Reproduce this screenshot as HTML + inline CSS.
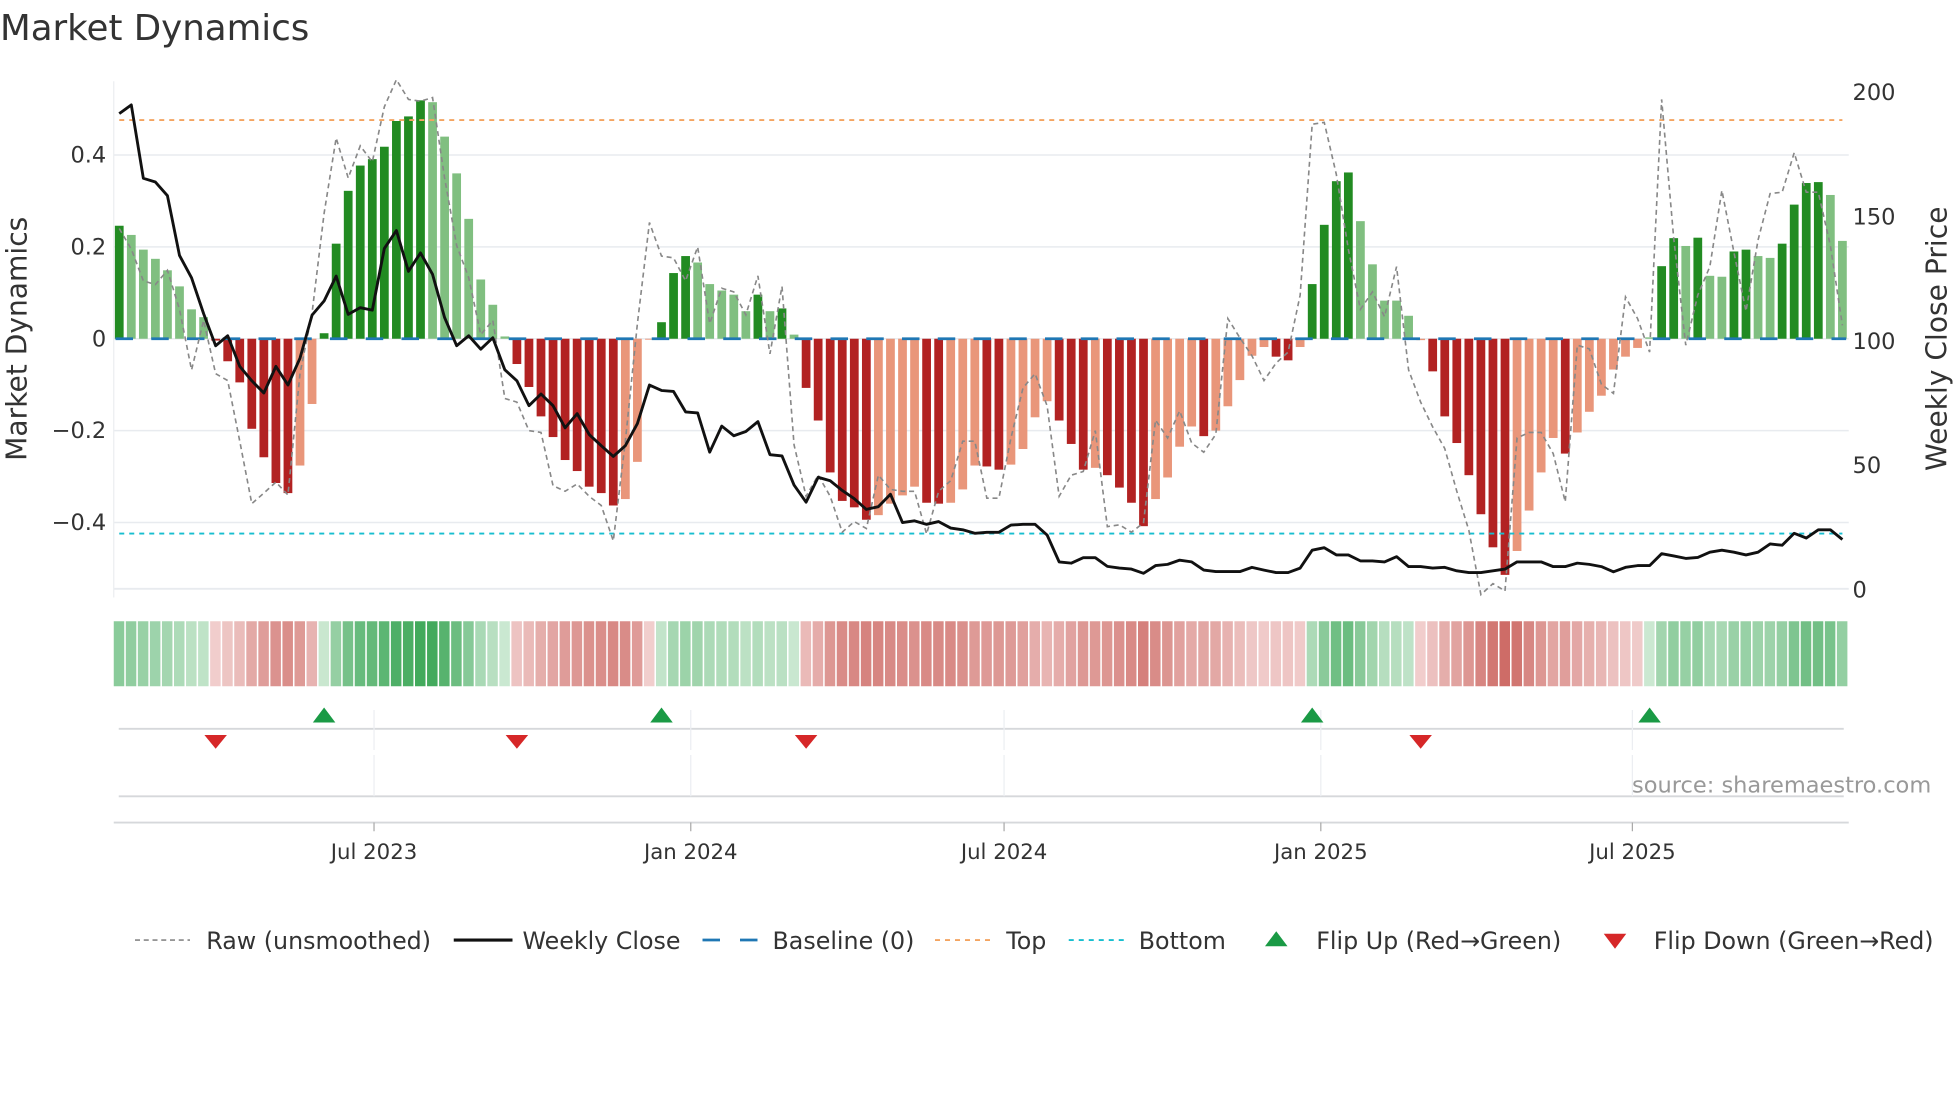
<!DOCTYPE html>
<html><head><meta charset="utf-8">
<style>
html,body{margin:0;padding:0;background:#fff;}
svg{display:block;font-family:"DejaVu Sans","Liberation Sans",sans-serif;}
</style></head>
<body>
<svg id="chart" width="1960" height="1102" viewBox="0 0 1568 881.6" xmlns="http://www.w3.org/2000/svg">
<rect x="0" y="0" width="1568" height="881.6" fill="#fff"/>
<text x="0" y="32" font-size="28.5" fill="#333">Market Dynamics</text>
<g id="main"></g>
<g id="strip"></g>
<g id="flips"></g>
<g id="xaxis"></g>
<g id="legend"></g>
</svg>
<script>
// ---- data ----
const startDate = '2023-02-03';
const dm = [0.246,0.226,0.194,0.174,0.149,0.114,0.064,0.047,-0.004,-0.049,-0.095,-0.196,-0.258,-0.314,-0.336,-0.276,-0.142,0.012,0.207,0.322,0.377,0.391,0.418,0.474,0.484,0.519,0.515,0.44,0.36,0.261,0.129,0.074,0.005,-0.055,-0.105,-0.169,-0.214,-0.264,-0.288,-0.322,-0.336,-0.363,-0.349,-0.268,-0.002,0.036,0.143,0.180,0.166,0.119,0.105,0.096,0.06,0.096,0.06,0.066,0.009,-0.107,-0.178,-0.291,-0.353,-0.367,-0.394,-0.384,-0.359,-0.341,-0.322,-0.357,-0.359,-0.357,-0.328,-0.276,-0.278,-0.285,-0.274,-0.24,-0.171,-0.136,-0.178,-0.229,-0.285,-0.281,-0.297,-0.324,-0.357,-0.408,-0.349,-0.302,-0.235,-0.191,-0.212,-0.2,-0.147,-0.09,-0.037,-0.018,-0.039,-0.047,-0.018,0.119,0.248,0.343,0.362,0.256,0.162,0.083,0.083,0.05,-0.003,-0.071,-0.169,-0.227,-0.297,-0.382,-0.454,-0.514,-0.462,-0.374,-0.291,-0.216,-0.25,-0.204,-0.159,-0.124,-0.067,-0.039,-0.02,0.003,0.158,0.219,0.202,0.22,0.137,0.135,0.19,0.194,0.18,0.176,0.207,0.292,0.339,0.341,0.313,0.213];
const strong = [1,0,0,0,0,0,0,0,1,1,1,1,1,1,1,0,0,1,1,1,1,1,1,1,1,1,0,0,0,0,0,0,0,1,1,1,1,1,1,1,1,1,0,0,0,1,1,1,0,0,0,0,0,1,0,1,0,1,1,1,1,1,1,0,0,0,0,1,1,0,0,0,1,1,0,0,0,0,1,1,1,0,1,1,1,1,0,0,0,0,1,0,0,0,0,0,1,1,0,1,1,1,1,0,0,0,0,0,0,1,1,1,1,1,1,1,0,0,0,0,1,0,0,0,0,0,0,0,1,1,0,1,0,0,1,1,0,0,1,1,1,1,0,0];
const price = [191,194.5,165,163.5,158,134,125,110.6,97.7,101.7,89.4,83.6,78.7,89.4,81.9,92.7,110,115.7,125.7,110.3,113,112,136.8,144,127.6,135,126.4,109,97.7,101.7,96.3,100.9,88,83.6,73.6,78.3,73.6,64.7,70.4,62,57.5,53.2,57.5,66.4,81.9,79.7,79.3,71.1,70.7,54.9,65.4,61.5,63.2,67.2,53.9,53.4,41.7,34.8,44.8,43.4,39.5,36.2,31.9,33,38,26.6,27.3,25.9,27,24.4,23.7,22.3,22.7,22.7,25.6,25.9,25.9,21.6,10.8,10.3,12.5,12.5,9,8.3,7.9,6.2,9.3,9.8,11.5,10.8,7.5,6.9,6.9,6.9,8.6,7.5,6.5,6.5,8.3,15.5,16.5,13.6,13.6,11.2,11.2,10.8,12.9,8.9,8.9,8.3,8.6,7.2,6.5,6.5,7.2,7.9,10.8,10.8,10.8,8.9,8.9,10.3,9.8,8.9,6.8,8.6,9.3,9.3,14.1,13.2,12.2,12.6,14.7,15.5,14.7,13.6,14.7,18,17.5,22.3,20.4,23.7,23.7,19.8];
const raw = [0.24,0.195,0.126,0.118,0.149,0.064,-0.068,0.04,-0.076,-0.091,-0.223,-0.359,-0.336,-0.312,-0.34,-0.076,0.056,0.273,0.437,0.35,0.42,0.385,0.505,0.564,0.521,0.517,0.525,0.35,0.203,0.133,0.009,0.04,-0.13,-0.138,-0.2,-0.204,-0.32,-0.332,-0.316,-0.343,-0.363,-0.44,-0.223,0.033,0.253,0.18,0.176,0.126,0.2,0.033,0.11,0.102,0.052,0.137,-0.033,0.114,-0.231,-0.343,-0.297,-0.343,-0.421,-0.398,-0.413,-0.297,-0.328,-0.332,-0.332,-0.425,-0.332,-0.309,-0.223,-0.223,-0.347,-0.347,-0.216,-0.107,-0.076,-0.146,-0.343,-0.297,-0.289,-0.2,-0.409,-0.405,-0.421,-0.401,-0.177,-0.216,-0.157,-0.227,-0.247,-0.208,0.044,0.002,-0.037,-0.091,-0.053,-0.029,0.095,0.467,0.471,0.358,0.195,0.064,0.102,0.048,0.157,-0.068,-0.138,-0.192,-0.239,-0.332,-0.417,-0.557,-0.533,-0.549,-0.216,-0.204,-0.204,-0.25,-0.355,-0.014,-0.022,-0.099,-0.119,0.091,0.044,-0.029,0.521,0.219,-0.014,0.095,0.157,0.323,0.188,0.06,0.215,0.316,0.319,0.405,0.319,0.319,0.203,0.029];
const topLevel = 0.476;
const bottomLevel = -0.424;
const leftTicks = [0.4,0.2,0,-0.2,-0.4];
const leftTickLabels = ['0.4','0.2','0','\u22120.2','\u22120.4'];
const rightTicks = [200,150,100,50,0];
const xTickDates = ['2023-07-01','2024-01-01','2024-07-01','2025-01-01','2025-07-01'];
const xTickLabels = ['Jul 2023','Jan 2024','Jul 2024','Jan 2025','Jul 2025'];

// ---- scales ----
const NS='http://www.w3.org/2000/svg';
const X0=95.4, STEP=9.64, PL=91, PR=1479;
function xi(i){return X0+i*STEP;}
function xDate(d){const days=(new Date(d)-new Date(startDate))/86400000;return X0+days/7*STEP;}
function yL(v){return 271-v*367.5;}
function yR(p){return 471-p*1.99;}
function mk(tag,attrs,parent){const e=document.createElementNS(NS,tag);for(const k in attrs)e.setAttribute(k,attrs[k]);parent.appendChild(e);return e;}

const main=document.getElementById('main');
leftTicks.forEach((t,k)=>{
  const g=mk('line',{x1:PL,x2:PR,y1:yL(t),y2:yL(t),stroke:'#e8ebef','stroke-width':1.2},main);
  
  
  const tx=mk('text',{x:85,y:yL(t)+6,'text-anchor':'end','font-size':18,fill:'#333'},main);
  tx.textContent=leftTickLabels[k];
  
  
});
const bg=mk('line',{x1:PL,x2:PR,y1:yR(0),y2:yR(0),stroke:'#e8ebef','stroke-width':1.5},main);


const sp=mk('line',{x1:PL,x2:PL,y1:65,y2:478,stroke:'#eceef1','stroke-width':1},main);


rightTicks.forEach(t=>{
  const tx=mk('text',{x:1482,y:yR(t)+7,'font-size':18,fill:'#333'},main);
  tx.textContent=String(t);
  
  
});
const yl=mk('text',{x:0,y:0,'font-size':22.5,fill:'#333','text-anchor':'middle',transform:'translate(21,271) rotate(-90)'},main);
yl.textContent='Market Dynamics';


const yr=mk('text',{x:0,y:0,'font-size':22.5,fill:'#333','text-anchor':'middle',transform:'translate(1557,271) rotate(-90)'},main);
yr.textContent='Weekly Close Price';



dm.forEach((v,i)=>{
  const pos=v>=0;
  const col=pos?(strong[i]?'#228b22':'#80bf80'):(strong[i]?'#b22222':'#e9967a');
  const y0=yL(0), y1=yL(v);
  const r=mk('rect',{x:xi(i)-3.5,y:Math.min(y0,y1),width:7,height:Math.max(Math.abs(y1-y0),0.3),fill:col},main);
  
  
});
const bl=mk('line',{x1:xi(0)-3,x2:xi(dm.length-1)+3,y1:yL(0),y2:yL(0),stroke:'#1f77b4','stroke-width':2.2,'stroke-dasharray':'14,14.6'},main);


const tl=mk('line',{x1:xi(0),x2:xi(dm.length-1),y1:yL(topLevel),y2:yL(topLevel),stroke:'#f4a460','stroke-width':1.5,'stroke-dasharray':'4,4'},main);


const btl=mk('line',{x1:xi(0),x2:xi(dm.length-1),y1:yL(bottomLevel),y2:yL(bottomLevel),stroke:'#17becf','stroke-width':1.5,'stroke-dasharray':'4,4'},main);


const rp=mk('polyline',{points:raw.map((v,i)=>xi(i)+','+yL(v)).join(' '),fill:'none',stroke:'#888','stroke-width':1.3,'stroke-dasharray':'4,3'},main);


const pp=mk('polyline',{points:price.map((p,i)=>xi(i)+','+yR(p)).join(' '),fill:'none',stroke:'#111','stroke-width':2.3,'stroke-linejoin':'round'},main);



const strip=document.getElementById('strip');
function mix(a,b,t){return 'rgb('+a.map((c,k)=>Math.round(c+(b[k]-c)*t)).join(',')+')';}
dm.forEach((v,i)=>{
  const t=Math.min(1,0.15+Math.abs(v)/0.6*0.85);
  const col=v>=0?mix([232,245,234],[44,160,74],t):mix([248,226,226],[200,92,86],t);
  const r=mk('rect',{x:xi(i)-4.4,y:497,width:8.4,height:52,fill:col},strip);
  
  
});

const fl=document.getElementById('flips');
[583,637].forEach(y=>{
  const l=mk('line',{x1:95,x2:1475,y1:y,y2:y,stroke:'#d6d8db','stroke-width':1.5},fl);
  
  
});
xTickDates.forEach(d=>{
  const x=xDate(d);
  const l=mk('line',{x1:x,x2:x,y1:568,y2:600,stroke:'#eceef2','stroke-width':1},fl);
  
  
  const l2=mk('line',{x1:x,x2:x,y1:604,y2:637,stroke:'#eceef2','stroke-width':1},fl);
  
  
});
for(let i=1;i<dm.length;i++){
  const x=xi(i);
  if(dm[i-1]<0&&dm[i]>0){
    const p=mk('polygon',{points:(x-9)+',578 '+(x+9)+',578 '+x+',566',fill:'#1a9a45'},fl);
    
    
  } else if(dm[i-1]>0&&dm[i]<0){
    const p=mk('polygon',{points:(x-9)+',588 '+(x+9)+',588 '+x+',599',fill:'#d62728'},fl);
    
    
  }
}
const src=mk('text',{x:1545,y:634,'text-anchor':'end','font-size':18,fill:'#999'},fl);
src.textContent='source: sharemaestro.com';



const xa=document.getElementById('xaxis');
const ax=mk('line',{x1:PL,x2:PR,y1:658,y2:658,stroke:'#d6d8db','stroke-width':1.5},xa);


xTickDates.forEach((d,k)=>{
  const x=xDate(d);
  const t=mk('line',{x1:x,x2:x,y1:658,y2:665,stroke:'#aaa','stroke-width':1},xa);
  
  
  const tx=mk('text',{x:x,y:687,'text-anchor':'middle','font-size':17,fill:'#333'},xa);
  tx.textContent=xTickLabels[k];
  
  
});

const lg=document.getElementById('legend');
const LY=752;
function ltext(x,s){const t=mk('text',{x:x,y:LY+7,'font-size':19,fill:'#333'},lg);t.textContent=s;}
let e;
e=mk('line',{x1:108,x2:152,y1:LY,y2:LY,stroke:'#888','stroke-width':1.3,'stroke-dasharray':'4,3'},lg);


ltext(165,'Raw (unsmoothed)');
e=mk('line',{x1:363,x2:410,y1:LY,y2:LY,stroke:'#111','stroke-width':2.5},lg);


ltext(418,'Weekly Close');
e=mk('line',{x1:562,x2:606,y1:LY,y2:LY,stroke:'#1f77b4','stroke-width':2.2,'stroke-dasharray':'14,16'},lg);


ltext(618,'Baseline (0)');
e=mk('line',{x1:748,x2:792,y1:LY,y2:LY,stroke:'#f4a460','stroke-width':1.5,'stroke-dasharray':'4,4'},lg);


ltext(805,'Top');
e=mk('line',{x1:855,x2:899,y1:LY,y2:LY,stroke:'#17becf','stroke-width':1.5,'stroke-dasharray':'4,4'},lg);


ltext(911,'Bottom');
e=mk('polygon',{points:'1012,757 1030,757 1021,745',fill:'#1a9a45'},lg);


ltext(1053,'Flip Up (Red\u2192Green)');
e=mk('polygon',{points:'1283,747 1301,747 1292,759',fill:'#d62728'},lg);


ltext(1323,'Flip Down (Green\u2192Red)');
</script>
</body></html>
